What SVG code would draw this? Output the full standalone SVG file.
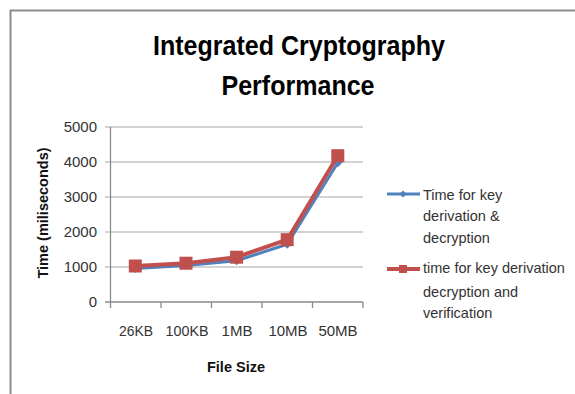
<svg xmlns="http://www.w3.org/2000/svg" width="575" height="394" viewBox="0 0 575 394">
  <style>
    .frame { fill: none; stroke: #8c8c8c; stroke-width: 2; }
    .grid { stroke: #c4c4c4; stroke-width: 1.5; }
    .axis { stroke: #8a8a8a; stroke-width: 1.3; fill: none; }
    .title { font-family: "Liberation Sans", Arial, sans-serif; font-weight: bold; font-size: 28px; fill: #000; text-anchor: middle; }
    .tick { font-family: "Liberation Sans", Arial, sans-serif; font-size: 15px; fill: #333; }
    .axtitle { font-family: "Liberation Sans", Arial, sans-serif; font-weight: bold; font-size: 14.5px; fill: #111; text-anchor: middle; }
    .legend { font-family: "Liberation Sans", Arial, sans-serif; font-size: 14.5px; fill: #333; }
    .blue { fill: none; stroke: #4f81bd; stroke-width: 3; stroke-linejoin: round; }
    .red { fill: none; stroke: #c0504d; stroke-width: 4; stroke-linejoin: round; }
    .dia { fill: #4f81bd; }
    .sq { fill: #c0504d; }
  </style>
  <defs>
    <marker id="diamond" viewBox="-5 -5 10 10" markerWidth="10" markerHeight="10" markerUnits="userSpaceOnUse" refX="0" refY="0">
      <path d="M0,-4.5 L4.5,0 L0,4.5 L-4.5,0 Z" fill="#4f81bd"/>
    </marker>
    <marker id="square" viewBox="-7 -7 14 14" markerWidth="14" markerHeight="14" markerUnits="userSpaceOnUse" refX="0" refY="0">
      <rect x="-6.5" y="-6.5" width="13" height="13" fill="#c0504d"/>
    </marker>
  </defs>

  <rect width="575" height="394" fill="#fff"/>

  <!-- chart frame (continues past the right and bottom edges) -->
  <path class="frame" d="M10.5,400 V10.5 H580"/>

  <!-- title -->
  <g id="title">
    <text class="title" x="299" y="55" textLength="292" lengthAdjust="spacingAndGlyphs">Integrated Cryptography</text>
    <text class="title" x="298" y="95" textLength="153" lengthAdjust="spacingAndGlyphs">Performance</text>
  </g>

  <!-- gridlines and axes -->
  <g id="grid">
    <line class="grid" x1="105" y1="127" x2="363" y2="127"/>
    <line class="grid" x1="105" y1="162" x2="363" y2="162"/>
    <line class="grid" x1="105" y1="197" x2="363" y2="197"/>
    <line class="grid" x1="105" y1="232" x2="363" y2="232"/>
    <line class="grid" x1="105" y1="267" x2="363" y2="267"/>
  </g>
  <g id="axes">
    <line class="axis" x1="110.5" y1="127" x2="110.5" y2="302"/>
    <line class="axis" x1="105" y1="302" x2="363" y2="302"/>
    <path class="axis" d="M110.5,302 v6 M161,302 v6 M211.5,302 v6 M262,302 v6 M312.5,302 v6 M363,302 v6"/>
  </g>

  <!-- y tick labels -->
  <g id="y-labels" class="tick" text-anchor="end">
    <text x="97" y="132">5000</text>
    <text x="97" y="167">4000</text>
    <text x="97" y="202">3000</text>
    <text x="97" y="237">2000</text>
    <text x="97" y="272">1000</text>
    <text x="97" y="307">0</text>
  </g>

  <!-- x tick labels -->
  <g id="x-labels" class="tick" text-anchor="middle">
    <text x="136" y="336" textLength="34" lengthAdjust="spacingAndGlyphs">26KB</text>
    <text x="187" y="336" textLength="43" lengthAdjust="spacingAndGlyphs">100KB</text>
    <text x="237" y="336">1MB</text>
    <text x="288" y="336">10MB</text>
    <text x="338" y="336">50MB</text>
  </g>

  <!-- axis titles -->
  <text id="x-title" class="axtitle" x="236" y="372">File Size</text>
  <text id="y-title" class="axtitle" transform="translate(48,213) rotate(-90)">Time (miliseconds)</text>

  <!-- data series -->
  <g id="series">
    <polyline id="series-decrypt" class="blue" marker-start="url(#diamond)" marker-mid="url(#diamond)" marker-end="url(#diamond)"
      points="135.3,268.4 186,265.6 236.6,260.7 287.2,244.3 337.8,162.7"/>
    <polyline id="series-verify" class="red" marker-start="url(#square)" marker-mid="url(#square)" marker-end="url(#square)"
      points="135.3,266 186,263.2 236.6,257.2 287.2,239.7 337.8,155.7"/>
  </g>

  <!-- legend -->
  <g id="legend-decrypt">
    <line x1="387" y1="194" x2="420" y2="194" stroke="#4f81bd" stroke-width="3"/>
    <path class="dia" d="M403,190.5 L406.5,194 L403,197.5 L399.5,194 Z"/>
    <text class="legend" x="423" y="200">Time for key</text>
    <text class="legend" x="423" y="221">derivation &amp;</text>
    <text class="legend" x="423" y="243">decryption</text>
  </g>
  <g id="legend-verify">
    <line x1="387" y1="269" x2="420" y2="269" stroke="#c0504d" stroke-width="4"/>
    <rect class="sq" x="399" y="265" width="8" height="8"/>
    <text class="legend" x="423" y="273">time for key derivation</text>
    <text class="legend" x="423" y="297">decryption and</text>
    <text class="legend" x="423" y="318">verification</text>
  </g>
</svg>
